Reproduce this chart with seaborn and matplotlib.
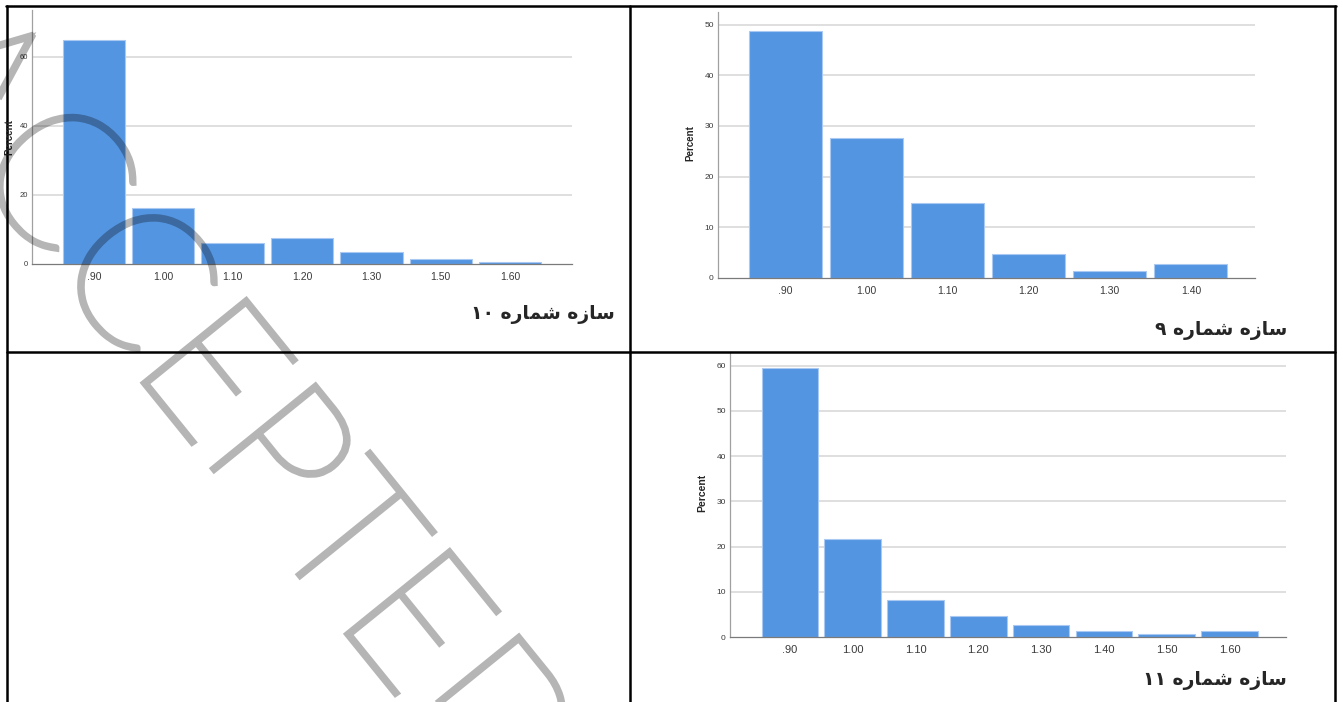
import matplotlib
matplotlib.use("Agg")
import matplotlib.pyplot as plt
import matplotlib.patheffects as pe
import seaborn as sns
from matplotlib.lines import Line2D

sns.set_style("white")
plt.rcParams["font.family"] = ["Liberation Sans", "DejaVu Sans"]

# ---------- data (percent per ratio class) ----------
labels_10 = [".90", "1.00", "1.10", "1.20", "1.30", "1.50", "1.60"]
pct_10 = [65.0, 16.1, 6.1, 7.4, 3.4, 1.4, 0.7]

labels_9 = [".90", "1.00", "1.10", "1.20", "1.30", "1.40"]
pct_9 = [48.7, 27.7, 14.8, 4.7, 1.3, 2.7]

labels_11 = [".90", "1.00", "1.10", "1.20", "1.30", "1.40", "1.50", "1.60"]
pct_11 = [59.4, 21.6, 8.2, 4.7, 2.7, 1.4, 0.7, 1.4]

title_10 = "سازه شماره ۱۰"
title_9 = "سازه شماره ۹"
title_11 = "سازه شماره ۱۱"

BAR = "#5495e2"
W, H = 1343, 702

# matplotlib has no arabic shaping, so pick the joined glyph forms by hand
FORMS = {
    "ا": ("\uFE8D", "\uFE8E", None, None),
    "ر": ("\uFEAD", "\uFEAE", None, None),
    "ز": ("\uFEAF", "\uFEB0", None, None),
    "س": ("\uFEB1", "\uFEB2", "\uFEB3", "\uFEB4"),
    "ش": ("\uFEB5", "\uFEB6", "\uFEB7", "\uFEB8"),
    "م": ("\uFEE1", "\uFEE2", "\uFEE3", "\uFEE4"),
    "ه": ("\uFEE9", "\uFEEA", "\uFEEB", "\uFEEC"),
}


def shape_word(word):
    out = []
    for i, ch in enumerate(word):
        if ch not in FORMS:
            out.append(ch)
            continue
        prev_j = i > 0 and word[i - 1] in FORMS and FORMS[word[i - 1]][2] is not None
        next_j = i < len(word) - 1 and word[i + 1] in FORMS and FORMS[ch][2] is not None
        if prev_j and next_j:
            out.append(FORMS[ch][3])
        elif prev_j:
            out.append(FORMS[ch][1])
        elif next_j:
            out.append(FORMS[ch][2])
        else:
            out.append(FORMS[ch][0])
    return "".join(reversed(out))


def visual(text):
    parts = []
    for tok in text.split(" "):
        if all(c in "۰۱۲۳۴۵۶۷۸۹" for c in tok):
            parts.append(tok)
        else:
            parts.append(shape_word(tok))
    return " ".join(reversed(parts))


def box(x0, y0, x1, y1):
    return [x0 / W, 1 - y1 / H, (x1 - x0) / W, (y1 - y0) / H]


fig = plt.figure(figsize=(W / 100, H / 100), dpi=100)


def spss_bar(rect, labels, values, ymax, yticks, xlim, xfs, yfs, ylab_xy, ylab_fs):
    ax = fig.add_axes(rect)
    sns.barplot(x=labels, y=values, color=BAR, saturation=1, width=0.9,
                edgecolor="#a9c9f2", linewidth=0.8, ax=ax, zorder=2)
    ax.set_ylim(0, ymax)
    ax.set_xlim(*xlim)
    ax.set_yticks(yticks)
    ax.set_yticklabels([str(t) for t in yticks])
    for t in yticks[1:]:
        ax.axhline(t, color="#dcdcdc", lw=1.3, zorder=1)
    ax.tick_params(axis="x", length=0, pad=6, labelsize=xfs, labelcolor="#3a3a3a")
    ax.tick_params(axis="y", length=0, pad=3, labelsize=yfs, labelcolor="#3a3a3a")
    for s in ["top", "right"]:
        ax.spines[s].set_visible(False)
    ax.spines["left"].set_color("#a0a0a0")
    ax.spines["bottom"].set_color("#7a7a7a")
    ax.spines["left"].set_linewidth(0.9)
    ax.spines["bottom"].set_linewidth(0.9)
    ax.set_facecolor("none")
    ax.set_xlabel("")
    ax.set_ylabel("")
    fig.text(ylab_xy[0] / W, 1 - ylab_xy[1] / H, "Percent", rotation=90,
             fontsize=ylab_fs, weight="bold", ha="center", va="center")
    return ax


# ---------- top-left: structure 10 ----------
spss_bar(box(32, 10, 572, 264), labels_10, pct_10, 73.6, [0, 20, 40, 60],
         (-0.89, 6.89), 7.5, 5.5, (9, 137), 7)

# ---------- top-right: structure 9 ----------
spss_bar(box(718, 12, 1255, 278), labels_9, pct_9, 52.5, [0, 10, 20, 30, 40, 50],
         (-0.83, 5.79), 7.5, 6, (690, 143), 7)

# ---------- bottom-right: structure 11 ----------
spss_bar(box(730, 352, 1286, 637), labels_11, pct_11, 63, [0, 10, 20, 30, 40, 50, 60],
         (-0.955, 7.9), 8, 6, (702, 493), 7.5)

# ---------- captions ----------
cap_font = ["DejaVu Sans", "Noto Sans"]
fig.text(615 / W, 1 - 315 / H, visual(title_10), family=cap_font, weight="bold",
         fontsize=13.5, ha="right", va="center")
fig.text(1287 / W, 1 - 330 / H, visual(title_9), family=cap_font, weight="bold",
         fontsize=13.5, ha="right", va="center")
fig.text(1287 / W, 1 - 681 / H, visual(title_11), family=cap_font, weight="bold",
         fontsize=13.5, ha="right", va="center")

# ---------- table grid ----------
def hline(y, x0, x1):
    fig.add_artist(Line2D([x0 / W, x1 / W], [1 - y / H, 1 - y / H], color="black", lw=1.8))


def vline(x, y0, y1):
    fig.add_artist(Line2D([x / W, x / W], [1 - y0 / H, 1 - y1 / H], color="black", lw=1.8))


hline(6, 6, 1336)
hline(352, 7, 1335)
vline(7, 6, 702)
vline(630, 6, 702)
vline(1335, 6, 702)

# ---------- watermark ----------
# thin font thickened with a translucent stroke only (no fill, so no double blending)
fig.text(192 / W, 1 - 443 / H, "ACCEPTED", family=["Lato", "DejaVu Sans"], weight="light",
         fontsize=136, color=(0, 0, 0, 0), rotation=-51, rotation_mode="anchor",
         ha="center", va="baseline", zorder=100,
         path_effects=[pe.Stroke(linewidth=4.0, foreground=(0, 0, 0, 0.29),
                                 joinstyle="miter")])

fig.savefig("out.png", dpi=100)
